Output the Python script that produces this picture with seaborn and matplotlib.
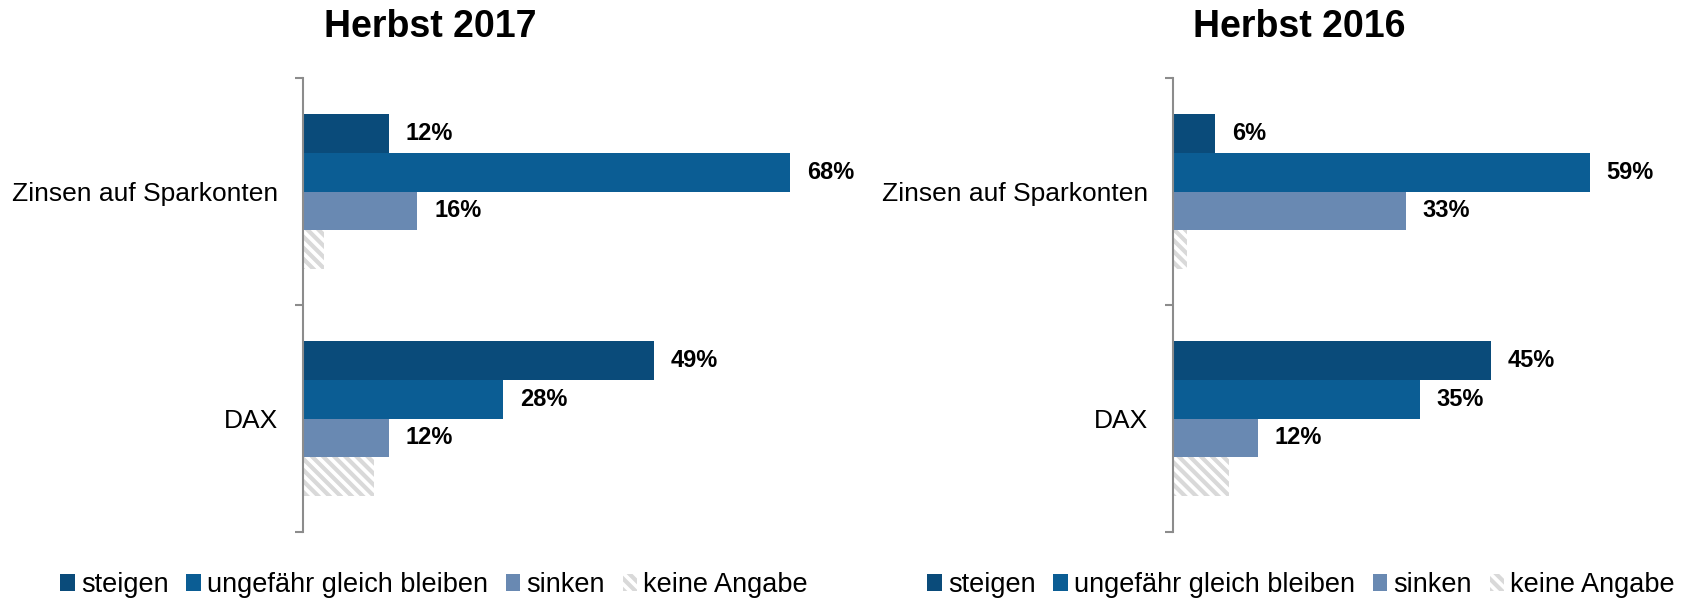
import numpy as np
import pandas as pd
import matplotlib
matplotlib.use("Agg")
import matplotlib.pyplot as plt
from matplotlib.patches import Patch
import seaborn as sns

sns.set_style("white")
plt.rcParams['font.family'] = ['Liberation Sans', 'DejaVu Sans']
plt.rcParams['hatch.linewidth'] = 3.0
plt.rcParams['text.color'] = 'black'
plt.rcParams['ytick.labelcolor'] = 'black'

# data
categories = ['Zinsen auf Sparkonten', 'DAX']
answers = ['steigen', 'ungefähr gleich bleiben', 'sinken', 'keine Angabe']
titles = ['Herbst 2017', 'Herbst 2016']
steigen = [[12, 49], [6, 45]]
gleich = [[68, 28], [59, 35]]
sinken = [[16, 12], [33, 12]]
keine = [[3, 10], [2, 8]]

colors = {'steigen': '#0a4b7a', 'ungefähr gleich bleiben': '#0b5d94',
          'sinken': '#6989b2', 'keine Angabe': '#ffffff'}
hatch_col = '#d9d9d9'
spine_col = '#8c8c8c'
hatch = '\\\\\\'

fig = plt.figure(figsize=(16.96, 5.99), dpi=100)
W, H = 1696, 599
panels = [
    # axis x (px), px per percent, title center x, legend center x
    (302.7, 7.17, 430, 434),
    (1172.7, 7.07, 1299, 1301),
]
xmax = 70

for i, (x0, ppp, tx, lx) in enumerate(panels):
    rows = []
    for j, cat in enumerate(categories):
        vals = [steigen[i][j], gleich[i][j], sinken[i][j], keine[i][j]]
        for a, v in zip(answers, vals):
            rows.append({'Kategorie': cat, 'Antwort': a, 'Wert': v})
    df = pd.DataFrame(rows)

    ax = fig.add_axes([x0 / W, 1 - 532 / H, xmax * ppp / W, 454 / H])
    sns.barplot(data=df, x='Wert', y='Kategorie', hue='Antwort', hue_order=answers,
                order=categories, palette=colors, saturation=1, width=0.687,
                orient='h', linewidth=0, legend=False, ax=ax)

    for c in ax.containers[3]:
        c.set_hatch(hatch)
        c.set_edgecolor(hatch_col)
        c.set_facecolor('white')
        c.set_linewidth(0)

    for k in range(3):
        cont = ax.containers[k]
        ax.bar_label(cont, labels=[f'{int(v)}%' for v in cont.datavalues],
                     padding=12, fontsize=17, fontweight='bold', color='black')

    ax.set_xlim(0, xmax)
    ax.set_ylim(1.5, -0.5)
    ax.set_xlabel('')
    ax.set_ylabel('')
    ax.set_xticks([])
    ax.set_yticks([0, 1])
    ax.set_yticklabels(categories, fontsize=19, color='black')
    ax.set_yticks([-0.5, 0.5, 1.5], minor=True)
    ax.tick_params(axis='y', which='major', length=0, pad=18)
    ax.tick_params(axis='y', which='minor', length=6, width=1.5,
                   color=spine_col, direction='out', left=True)
    for s in ['top', 'right', 'bottom']:
        ax.spines[s].set_visible(False)
    ax.spines['left'].set_color(spine_col)
    ax.spines['left'].set_linewidth(1.5)

    fig.text(tx / W, 1 - 37.3 / H, titles[i], ha='center', va='baseline',
             fontsize=27, fontweight='bold', color='black')

    handles = [Patch(facecolor=colors[a], linewidth=0) for a in answers[:3]]
    handles.append(Patch(facecolor='white', edgecolor=hatch_col, hatch=hatch, linewidth=0))
    fig.legend(handles, answers, loc='center', bbox_to_anchor=(lx / W, 1 - 585 / H),
               ncol=4, frameon=False, fontsize=19.5, handlelength=0.55,
               handleheight=0.55, handletextpad=0.22, columnspacing=0.65,
               borderpad=0, borderaxespad=0, labelcolor='black')

fig.savefig('out.png', dpi=100)
